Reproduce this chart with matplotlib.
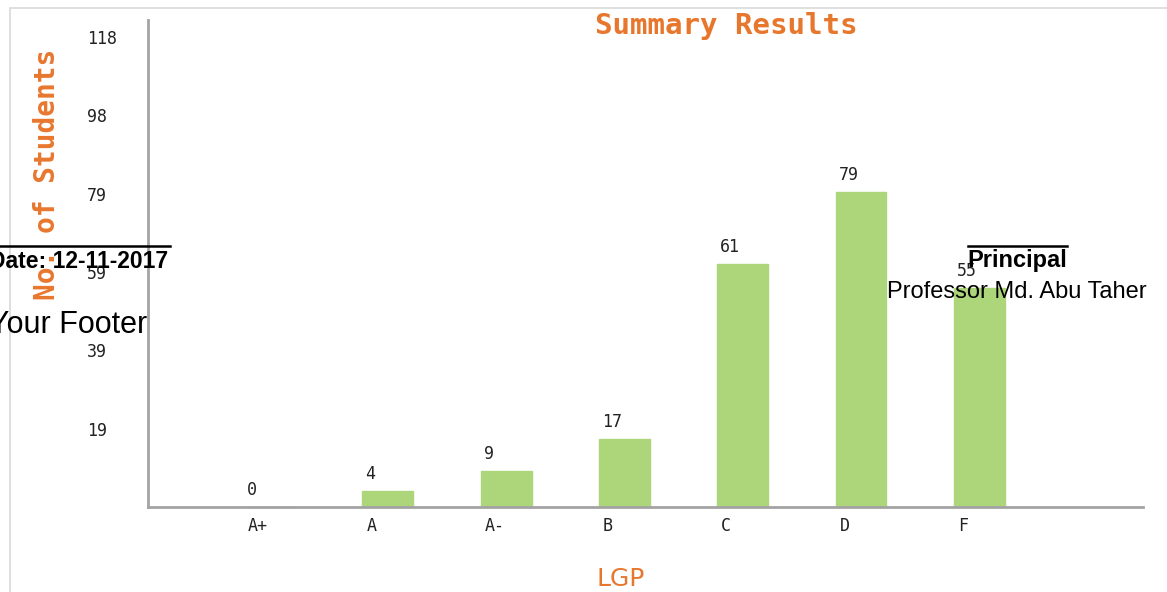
import matplotlib
matplotlib.use('Agg')
import matplotlib.pyplot as plt
from matplotlib.lines import Line2D
from matplotlib.patches import Rectangle
from matplotlib.transforms import ScaledTranslation
import numpy as np

grades = ['A+', 'A', 'A-', 'B', 'C', 'D', 'F']
students = [0, 4, 9, 17, 61, 79, 55]
y_max = 118
y_tick_labels = ['19', '39', '59', '79', '98', '118']

W, H = 1167, 592
orange = '#e8772e'
green = '#add67b'
axis_gray = '#a3a3a3'


def px(x, y):
    # pixel coords (top-left origin) -> figure fraction
    return x / W, 1 - y / H


fig = plt.figure(figsize=(W / 100, H / 100), dpi=100)

# faint outer frame
fig.add_artist(Rectangle(px(10, 700), 1300 / W, 692 / H, transform=fig.transFigure,
                         fill=False, edgecolor='#d9d9d9', linewidth=1.2))

ax = fig.add_axes([148 / W, 1 - 507 / H, (1143 - 148) / W, (507 - 20) / H])

x = np.arange(len(grades))
bw = 0.43
ax.bar(x, students, width=bw, color=green, edgecolor=green, linewidth=1)

for xi, v in zip(x, students):
    ax.annotate(str(v), (xi - bw / 2, v), xytext=(3, 17), textcoords='offset pixels',
                ha='left', va='center', fontsize=12, family='DejaVu Sans Mono', color='#222222')

ax.set_xlim(-1.027, 7.384)
ax.set_ylim(0, 122.3)

for s in ['top', 'right']:
    ax.spines[s].set_visible(False)
for s in ['left', 'bottom']:
    ax.spines[s].set_color(axis_gray)
    ax.spines[s].set_linewidth(2)

# ticks split the range 0..max into 6 steps, labels shown rounded down
ax.set_yticks(np.linspace(0, y_max, 7)[1:])
ax.set_yticklabels(y_tick_labels, family='DejaVu Sans Mono', fontsize=12, color='#222222')
ax.tick_params(axis='y', length=0, pad=44)
for lab in ax.get_yticklabels():
    lab.set_ha('left')

ax.set_xticks(x - bw / 2)
ax.set_xticklabels(grades, family='DejaVu Sans Mono', fontsize=12, color='#222222')
ax.tick_params(axis='x', length=0, pad=7)
shift = ScaledTranslation(4 / 100, 0, fig.dpi_scale_trans)
for lab in ax.get_xticklabels():
    lab.set_ha('left')
    lab.set_transform(lab.get_transform() + shift)

fig.text(*px(726, 26), 'Summary Results', ha='center', va='center', color=orange,
         fontsize=21, family='DejaVu Sans Mono', fontweight='bold')
fig.text(*px(47, 174), 'No. of Students', ha='center', va='center', rotation=90, color=orange,
         fontsize=20, family='DejaVu Sans Mono', fontweight='bold')
fig.text(*px(621, 579), 'LGP', ha='center', va='center', color=orange, fontsize=18,
         family='DejaVu Sans')

# overlaid page footer texts
sans = 'Liberation Sans'
fig.text(*px(168, 268), 'Date: 12-11-2017', ha='right', va='baseline', fontsize=16.5,
         fontweight='bold', family=sans, color='black')
fig.add_artist(Line2D([0, 170 / W], [1 - 246 / H] * 2, transform=fig.transFigure,
                      color='black', linewidth=1.8))
fig.text(*px(147, 333), 'Your Footer', ha='right', va='baseline', fontsize=22,
         family=sans, color='black')
fig.text(*px(1017, 267), 'Principal', ha='center', va='baseline', fontsize=17,
         fontweight='bold', family=sans, color='black')
fig.add_artist(Line2D([968 / W, 1067 / W], [1 - 246 / H] * 2, transform=fig.transFigure,
                      color='black', linewidth=1.8))
fig.text(*px(1017, 298), 'Professor Md. Abu Taher', ha='center', va='baseline', fontsize=17,
         family=sans, color='black')

fig.savefig('out.png', dpi=100)
